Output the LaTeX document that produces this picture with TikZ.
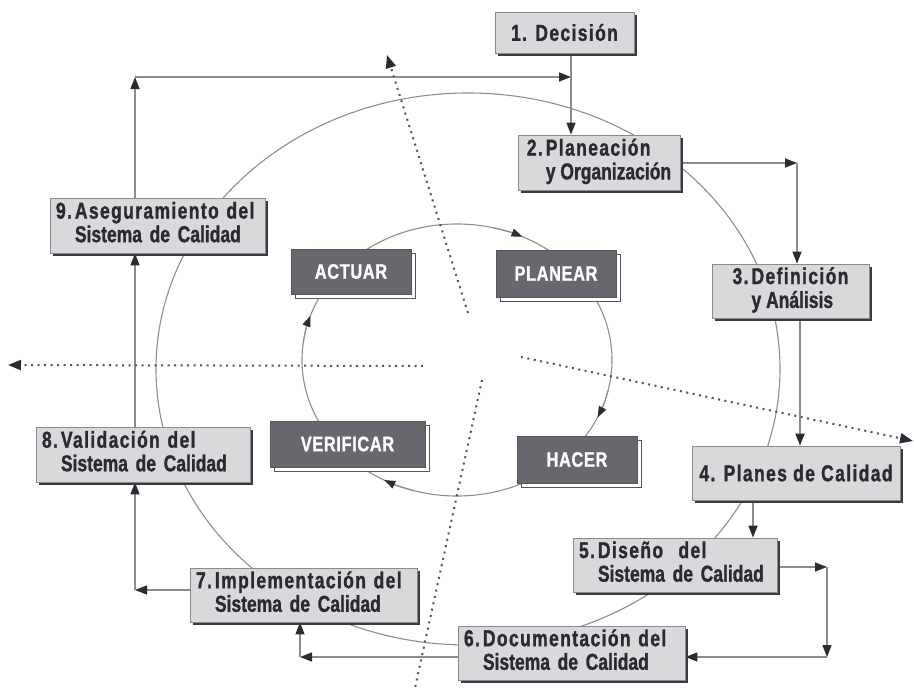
\documentclass[tikz,border=0pt]{standalone}
\usepackage{fontspec}
\setmainfont{Liberation Sans}
\newfontfamily\mycondf[FakeStretch=0.76,FakeBold=1.2]{Liberation Sans Bold}
\newfontfamily\mycondt[FakeStretch=0.76,FakeBold=1.2,LetterSpace=6]{Liberation Sans Bold}
\newfontfamily\mycondd[FakeStretch=0.78,FakeBold=1,LetterSpace=3]{Liberation Sans Bold}
\usetikzlibrary{arrows.meta,shadows,backgrounds}
\definecolor{bfill}{HTML}{D9D9DC}
\definecolor{bline}{HTML}{8A8A8E}
\definecolor{bshadow}{HTML}{3A3A42}
\definecolor{btext}{HTML}{2A2A30}
\definecolor{dfill}{HTML}{67676D}
\definecolor{dline}{HTML}{55555B}
\definecolor{conline}{HTML}{8C8C8C}
\definecolor{tipcol}{HTML}{2B2B33}
\definecolor{circcol}{HTML}{8F8F8F}
\definecolor{dotcol}{HTML}{55555A}
\newcommand\mybxa{\mycondt\fontsize{23}{23}\selectfont}
\newcommand\mybxb{\mycondf\fontsize{23}{23}\selectfont}
\newcommand\mydk{\mycondd\fontsize{21}{21}\selectfont}
\newcommand\mytwol[3]{\begin{tabular}{@{}l@{\hspace{3pt}}l@{}}{\mybxa #1}&{\mybxa #2}\\&#3\end{tabular}}
\begin{document}
\begin{tikzpicture}[x=1pt,y=-1pt,
  lbox/.style={draw=bline, line width=0.8pt, fill=bfill, text=btext, inner sep=0pt,
    minimum height=54pt, font=\mybxb,
    drop shadow={shadow xshift=3pt, shadow yshift=-3pt, fill=bshadow, opacity=1}},
  lleft/.style={text width=#1, inner xsep=6pt, align=left},
  dbox/.style={draw=dline, line width=0.6pt, fill=dfill, text=white, inner sep=0pt,
    font=\mydk, minimum width=120pt, minimum height=46pt,
    drop shadow={shadow xshift=4pt, shadow yshift=-4pt, fill=white, draw=dline, line width=0.6pt, opacity=1}},
  con/.style={draw=conline, line width=1.4pt,
    -{Triangle[length=12pt,width=9pt,color=tipcol]}},
  circ/.style={draw=circcol, line width=1.1pt},
  ctip/.style={circ, -{Triangle[length=11pt,width=8pt,color=tipcol]}},
  dotl/.style={draw=dotcol, line width=2pt, dash pattern=on 2pt off 4.5pt},
  dotarr/.style={dotl, -{Triangle[length=13pt,width=10pt,color=tipcol]}}
]
\useasboundingbox (0,0) rectangle (914,688);
\begin{scope}[on background layer]
\fill[white] (0,0) rectangle (914,688);
\end{scope}

% cycles
\draw[circ] (468,369) ellipse [x radius=312, y radius=276];
\draw[circ] (457,360) ellipse [x radius=155, y radius=136];
\draw[ctip] ([shift={(457,360)}]283:155 and 136) arc[start angle=283, end angle=295, x radius=155, y radius=136];
\draw[ctip] ([shift={(457,360)}]13:155 and 136) arc[start angle=13, end angle=25, x radius=155, y radius=136];
\draw[ctip] ([shift={(457,360)}]106:155 and 136) arc[start angle=106, end angle=118, x radius=155, y radius=136];
\draw[ctip] ([shift={(457,360)}]187:155 and 136) arc[start angle=187, end angle=199, x radius=155, y radius=136];

% dotted axes
\coordinate (da1) at (468,313); \coordinate (da2) at (387,55);
\coordinate (db1) at (423,366); \coordinate (db2) at (8,365);
\coordinate (dc1) at (521,357); \coordinate (dc2) at (913,441);
\coordinate (dd1) at (482,380); \coordinate (dd2) at (415,688);
\draw[dotarr] (da1) -- (da2);
\draw[dotarr] (db1) -- (db2);
\draw[dotarr] (dc1) -- (dc2);
\draw[dotl] (dd1) -- (dd2);

% connector bends
\coordinate (ctl) at (135,77);
\coordinate (ctr) at (571,77);
\coordinate (c23) at (797,163);
\coordinate (x34) at (800,380);
\coordinate (x45) at (753,520);
\coordinate (c56a) at (827,567);
\coordinate (c56b) at (827,657);
\coordinate (c67) at (300,657);
\coordinate (c78) at (135,590);

% process boxes
\node[lbox, minimum width=139pt, minimum height=41pt] (b1) at (564.5,32.5) {\mybxa 1. Decisión};
\node[lbox, minimum width=162pt, minimum height=55pt] (b2) at (599,162.5) {\mytwol{2.}{Planeación}{y Organización}};
\node[lbox, minimum width=157pt] (b3) at (790.5,291) {\mytwol{3.}{Definición}{y Análisis}};
\node[lbox, minimum width=208pt] (b4) at (796,473) {\mybxa 4. Planes de Calidad};
\node[lbox, lleft=192pt] (b5) at (675,565) {\mytwol{5.}{Diseño\ \ del}{Sistema de Calidad}};
\node[lbox, lleft=215pt] (b6) at (571.5,653) {\mytwol{6.}{Documentación del}{Sistema de Calidad}};
\node[lbox, lleft=215pt] (b7) at (303.5,595) {\mytwol{7.}{Implementación del}{Sistema de Calidad}};
\node[lbox, lleft=202pt, minimum height=55pt] (b8) at (143,454.5) {\mytwol{8.}{Validación del}{Sistema de Calidad}};
\node[lbox, lleft=203pt, minimum height=55pt] (b9) at (157.5,225.5) {\mytwol{9.}{Aseguramiento del}{Sistema de Calidad}};

% PDCA boxes
\node[dbox, minimum height=45pt] (act) at (351,271.5) {ACTUAR};
\node[dbox, minimum height=47pt] (pla) at (556,273.5) {PLANEAR};
\node[dbox, minimum width=155pt] (ver) at (347.5,444) {VERIFICAR};
\node[dbox, minimum height=47pt] (hac) at (577,459.5) {HACER};

\begin{scope}[on background layer]
\draw[con] (b9.north -| ctl) -- (ctl);
\draw[con] (ctl) -- (ctr);
\draw[con] (b1.south -| ctr) -- (b2.north -| ctr);
\draw[con] (b2.east |- c23) -- (c23);
\draw[con] (c23) -- (b3.north -| c23);
\draw[con] (b3.south -| x34) -- (b4.north -| x34);
\draw[con] (b4.south -| x45) -- (b5.north -| x45);
\draw[con] (b5.east |- c56a) -- (c56a);
\draw[con] (c56a) -- (c56b);
\draw[con] (c56b) -- (b6.east |- c56b);
\draw[con] (b6.west |- c67) -- (c67);
\draw[con] (c67) -- (b7.south -| c67);
\draw[con] (b7.west |- c78) -- (c78);
\draw[con] (c78) -- (b8.south -| c78);
\draw[con] (b8.north -| c78) -- (b9.south -| c78);
\end{scope}
\end{tikzpicture}
\end{document}
